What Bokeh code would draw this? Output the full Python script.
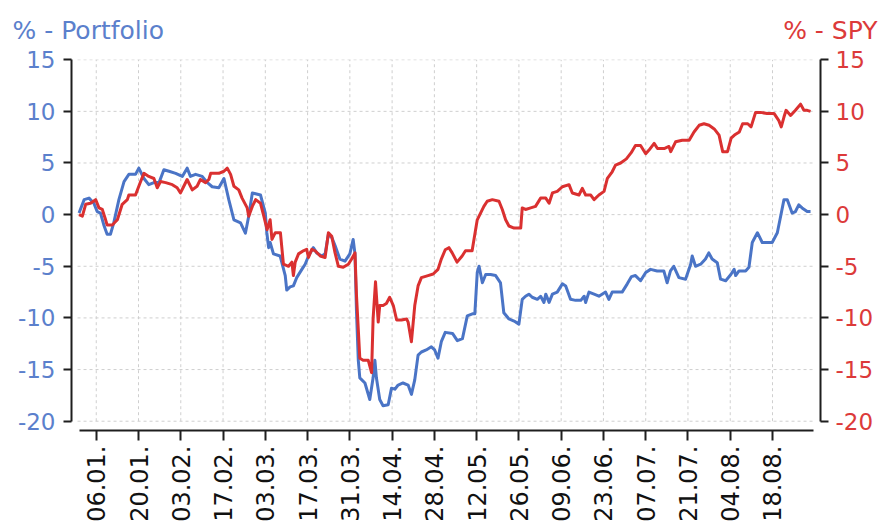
import math
from bokeh.plotting import figure
from bokeh.layouts import column
from bokeh.models import Range1d, LinearAxis, FixedTicker
from bokeh.embed import file_html
from bokeh.resources import INLINE
from bokeh.core.properties import value

# ---------------- data ----------------
tick_days = [0, 14, 28, 42, 56, 70, 84, 98, 112, 126, 140, 154, 168, 182, 196, 210, 224]
tick_labels = ["06.01.", "20.01.", "03.02.", "17.02.", "03.03.", "17.03.", "31.03.", "14.04.",
               "28.04.", "12.05.", "26.05.", "09.06.", "23.06.", "07.07.", "21.07.", "04.08.", "18.08."]
y_ticks = [-20, -15, -10, -5, 0, 5, 10, 15]
y_tick_labels = ["-20", "-15", "-10", "-5", "0", "5", "10", "15"]
series_titles = ["% - Portfolio", "% - SPY"]

port_days = [-5.7, -4, -2.4, -0.8, 0.3, 1.4, 2.5, 3.6, 4.7, 5.8, 7.5, 9.2, 10.8, 13, 14.1, 15.8, 17.4,
             19.1, 20.8, 22.4, 24.1, 26.3, 28.5, 30.1, 31.2, 32.9, 35.1, 36.8, 38.4, 40.6, 42.3, 43.9,
             45.6, 47.8, 49.4, 50.5, 51.7, 54.4, 56, 56.5, 57.1, 57.6, 58.7, 60.9, 62.6, 63.1, 64.2,
             65.3, 66.4, 68.1, 69.2, 70.3, 71.9, 73, 74.7, 75.8, 76.9, 78, 79.1, 80.7, 82.4, 84, 85.1,
             85.7, 86.2, 86.8, 87.3, 89, 90.6, 91.7, 92.3, 92.8, 93.9, 95, 96.7, 97.8, 98.9, 100,
             101.6, 103.3, 104.4, 105.5, 106.6, 107.7, 109.3, 111, 112.1, 113.2, 114.3, 115.6, 118,
             119.6, 121.3, 122.9, 124.6, 125.4, 126.2, 126.8, 127.9, 129, 130.6, 132.3, 133.9, 135,
             136.7, 138.4, 140, 141.1, 142.2, 143.3, 144.4, 146.1, 147.2, 148.3, 148.9, 150, 151.1,
             152.7, 154.4, 155.5, 157.1, 158.8, 160.5, 161.6, 162.1, 163.2, 164.9, 166.5, 168.7,
             169.8, 170.9, 172.6, 174.2, 175.9, 177.3, 178.6, 180.3, 182, 183.6, 185.8, 188, 189.1,
             190.2, 191.3, 193, 195.2, 196.9, 197.4, 198.5, 200.2, 201.8, 202.9, 204, 205.7, 206.8,
             208.5, 210.2, 211.3, 211.8, 212.9, 215.1, 216.2, 217.3, 219, 220.6, 222.3, 223.9, 225.6,
             226.7, 227.8, 228.9, 230.5, 231.6, 232.7, 233.8, 235.5, 236.6]
port_vals = [0.15, 1.45, 1.6, 1.1, 0.3, 0.15, -1.0, -1.9, -1.9, -0.8, 1.45, 3.2, 3.9, 3.9, 4.5, 3.5, 2.9,
             3.1, 3.1, 4.35, 4.2, 4.0, 3.7, 4.5, 3.7, 3.9, 3.7, 3.1, 2.7, 2.6, 3.5, 1.45,
             -0.5, -0.8, -1.8, -0.15, 2.1, 1.9, 0.15, -1.75, -3.2, -2.7, -3.8, -4.0, -5.9, -7.3, -7.0,
             -6.9, -6.1, -5.3, -4.8, -4.0, -3.2, -3.7, -4.0, -3.8, -1.9, -2.2, -3.0, -4.3, -4.5, -3.8, -2.4,
             -3.8, -9.4, -14.1, -15.8, -16.3, -17.9, -15.8, -14.1, -15.8, -17.9, -18.5, -18.4, -16.8, -16.9, -16.5,
             -16.3, -16.5, -17.4, -16.0, -13.6, -13.3, -13.1, -12.8, -13.1, -13.9, -12.3, -11.4, -11.5,
             -12.2, -12.0, -9.8, -9.6, -9.6, -5.6, -5.0, -6.6, -5.8, -5.8, -5.9, -6.6, -9.5,
             -10.1, -10.3, -10.6, -8.2, -7.9, -7.7, -8.0, -8.2, -7.9, -8.5, -7.7, -8.5, -7.7,
             -7.5, -6.7, -6.9, -8.2, -8.3, -8.3, -7.9, -8.5, -7.5, -7.7, -7.9, -7.5,
             -8.2, -7.5, -7.5, -7.5, -6.7, -6.0, -5.9, -6.4, -5.6, -5.3, -5.45, -5.45, -6.6,
             -5.45, -5.0, -6.1, -6.25, -4.8, -4.0, -5.0, -4.8, -4.3, -3.7, -4.3, -4.65, -6.25,
             -6.4, -5.8, -5.3, -5.9, -5.45, -5.45, -5.1, -2.7, -1.75, -2.7, -2.7, -2.7, -1.75,
             -0.15, 1.45, 1.45, 0.15, 0.3, 0.95, 0.65, 0.3, 0.3]

spy_days = [-5.7, -4.6, -3.5, -1.9, -0.2, 0.9, 2, 3.1, 3.6, 5.3, 7, 8.6, 10.3, 10.8, 13, 14.7, 15.8, 17.4,
            19.1, 20.2, 21.3, 23, 25.2, 26.8, 27.9, 29, 30.1, 31.8, 33.4, 34.5, 36.2, 37.3, 37.9, 40.6,
            42.3, 43.4, 44.5, 45.6, 47.2, 48.3, 50, 50.5, 51.7, 52.8, 54.4, 55.5, 56.6, 57.6, 58.2, 59.3,
            61, 62, 63.7, 64.8, 65.3, 65.9, 67, 68.6, 69.7, 70.3, 71.4, 72.5, 74.2, 75.8, 76.9, 78, 79.1,
            80.2, 81.8, 83.5, 84.6, 85.7, 86.2, 87.3, 88.4, 90.1, 91.2, 91.7, 92.5, 93.4, 93.9, 95, 96.1,
            97.2, 98.4, 99.5, 101.1, 102.8, 103.3, 104.4, 105.5, 106.6, 107.7, 109.9, 111.6, 113.2,
            114.3, 115.6, 116.8, 117.9, 119.5, 121.2, 122.3, 124.5, 126.2, 127.3, 128.4, 129.5, 131.2,
            133.4, 134.5, 135.6, 136.7, 138.4, 140.6, 141.1, 142.2, 143.9, 145.5, 147.2, 148.9, 150,
            151.1, 152.7, 154.4, 156.6, 157.7, 159.9, 161, 162.1, 163.8, 164.9, 166.5, 168.2, 169.3,
            170.9, 172, 173.7, 175.6, 177.2, 178.6, 180.3, 182, 183.1, 184.8, 185.9, 188.1, 189.7,
            190.3, 191.9, 194.1, 196.4, 198, 199.7, 201.3, 203, 204.7, 206.3, 207.5, 209.1, 210.3,
            211.4, 213, 214.1, 215.8, 216.9, 218.4, 220, 222.2, 224.5, 226.1, 226.9, 227.8, 228.5, 230,
            231.6, 233.3, 234.4, 235.5, 236.6]
spy_vals = [0.0, -0.15, 1.0, 1.1, 1.45, 0.65, 0.5, -0.5, -1.0, -1.0, -0.5, 1.0, 1.45, 1.9, 1.9, 3.2, 4.0, 3.7,
            3.5, 2.6, 3.2, 3.1, 2.9, 2.6, 2.1, 2.75, 3.4, 2.4, 2.75, 3.4, 3.1, 3.4, 4.0, 4.0,
            4.2, 4.5, 3.9, 2.75, 2.4, 1.6, 0.65, -0.15, 0.8, 1.45, 1.1, -0.15, -1.45, -0.5, -2.4, -1.75,
            -1.75, -4.8, -5.0, -4.6, -5.9, -4.6, -3.8, -3.5, -3.35, -4.15, -3.35, -3.5, -4.0, -4.15, -1.75, -2.1, -3.7,
            -5.0, -5.1, -4.8, -4.3, -3.7, -7.8, -13.9, -14.1, -14.1, -15.3, -10.1, -6.5, -10.4, -8.8, -8.8, -8.6,
            -8.0, -8.8, -10.2, -10.2, -10.1, -10.4, -12.3, -8.8, -6.9, -6.1, -5.9, -5.75, -5.3,
            -4.3, -3.4, -3.2, -3.7, -4.6, -4.0, -3.5, -3.5, -0.5, 0.15, 0.8, 1.3, 1.45,
            1.3, 0.5, -0.5, -1.1, -1.3, -1.3, 0.65, 0.5, 0.65, 0.8, 1.6, 1.6, 1.1,
            2.1, 2.25, 2.7, 2.9, 2.1, 1.9, 2.55, 1.9, 1.9, 1.45, 1.9, 2.25, 3.5,
            4.15, 4.8, 5.0, 5.4, 6.0, 6.7, 6.7, 5.9, 6.25, 6.9, 6.4, 6.4, 6.6,
            6.1, 7.05, 7.2, 7.2, 8.0, 8.65, 8.8, 8.65, 8.3, 7.7, 6.1, 6.1, 7.4,
            7.7, 8.0, 8.8, 8.8, 8.5, 9.9, 9.9, 9.8, 9.8, 9.1, 8.5, 9.45, 10.1, 9.6,
            10.1, 10.7, 10.1, 10.1, 10.0]

# ---------------- style ----------------
BLUE_LINE = "#4a74c6"
RED_LINE = "#da3030"
BLUE_TEXT = "#5b80cc"
RED_TEXT = "#dc3a3a"
AXIS_COLOR = "#1e1e1e"
GRID_COLOR = "#cfcfcf"
FONT = "DejaVu Sans"
W = 880
HEAD_H = 44
MAIN_H = 524 - HEAD_H
TITLE_MID = 29.5     # vertical middle of the title row, px from top

Y_START, Y_END = -20.9, 15.02
X_START, X_END = -8.2, 239.9
X_AXIS_BOUNDS = (-5.5, 237.5)
GRID_X = (-6.2, 237.5)

# ---------------- header strip with the two series titles ----------------
head = figure(width=W, height=HEAD_H, output_backend="svg", toolbar_location=None,
              x_range=Range1d(0, W), y_range=Range1d(0, HEAD_H),
              min_border=0, min_border_left=0, min_border_right=0, min_border_top=0, min_border_bottom=0)
head.frame_align = False
head.axis.visible = False
head.grid.visible = False
head.outline_line_color = None
head.text(x=[12], y=[HEAD_H - TITLE_MID], text=[series_titles[0]], text_font=value(FONT),
          text_font_size=value("25px"), text_color=BLUE_TEXT, text_align="left", text_baseline="middle")
head.text(x=[W - 3], y=[HEAD_H - TITLE_MID], text=[series_titles[1]], text_font=value(FONT),
          text_font_size=value("25px"), text_color=RED_TEXT, text_align="right", text_baseline="middle")

# ---------------- main chart ----------------
p = figure(width=W, height=MAIN_H, output_backend="svg", toolbar_location=None,
           x_range=Range1d(X_START, X_END), y_range=Range1d(Y_START, Y_END),
           min_border_left=71, min_border_right=60, min_border_top=59 - HEAD_H, min_border_bottom=91)
p.frame_align = False
p.extra_y_ranges = {"spy": Range1d(Y_START, Y_END)}
p.outline_line_color = None
p.xgrid.visible = False
p.ygrid.visible = False

# dashed grid at the tick positions
p.segment(x0=[GRID_X[0]] * len(y_ticks), x1=[GRID_X[1]] * len(y_ticks), y0=y_ticks, y1=y_ticks,
          line_color=GRID_COLOR, line_width=1, line_dash="3 3")
p.segment(x0=tick_days, x1=tick_days, y0=[min(y_ticks)] * len(tick_days), y1=[max(y_ticks)] * len(tick_days),
          line_color=GRID_COLOR, line_width=1, line_dash="3 3")

# series
p.line(port_days, port_vals, line_color=BLUE_LINE, line_width=3, line_join="round")
p.line(spy_days, spy_vals, line_color=RED_LINE, line_width=3, line_join="round", y_range_name="spy")

overrides = {t: s for t, s in zip(y_ticks, y_tick_labels)}

def style_axis(ax, tick_out, size):
    ax.axis_line_color = AXIS_COLOR
    ax.axis_line_width = 2
    ax.major_tick_line_color = AXIS_COLOR
    ax.major_tick_line_width = 2
    ax.major_tick_in = 0
    ax.major_tick_out = tick_out
    ax.minor_tick_line_color = None
    ax.major_label_text_font = FONT
    ax.major_label_text_font_size = size

def style_y(ax, color, standoff):
    ax.ticker = FixedTicker(ticks=y_ticks)
    ax.major_label_overrides = overrides
    ax.bounds = (min(y_ticks), max(y_ticks))
    style_axis(ax, 8, "23px")
    ax.major_label_standoff = standoff
    ax.major_label_text_color = color

style_y(p.yaxis[0], BLUE_TEXT, 8)
ra = LinearAxis(y_range_name="spy")
style_y(ra, RED_TEXT, 7)
p.add_layout(ra, "right")

xa = p.xaxis[0]
xa.ticker = FixedTicker(ticks=tick_days)
xa.major_label_overrides = {d: s for d, s in zip(tick_days, tick_labels)}
xa.bounds = X_AXIS_BOUNDS
style_axis(xa, 10, "24px")
xa.major_label_orientation = math.pi / 2
xa.major_label_standoff = 5
xa.major_label_text_color = "#111111"

layout = column(head, p, spacing=0)
open("out.html", "w").write(file_html(layout, INLINE))
